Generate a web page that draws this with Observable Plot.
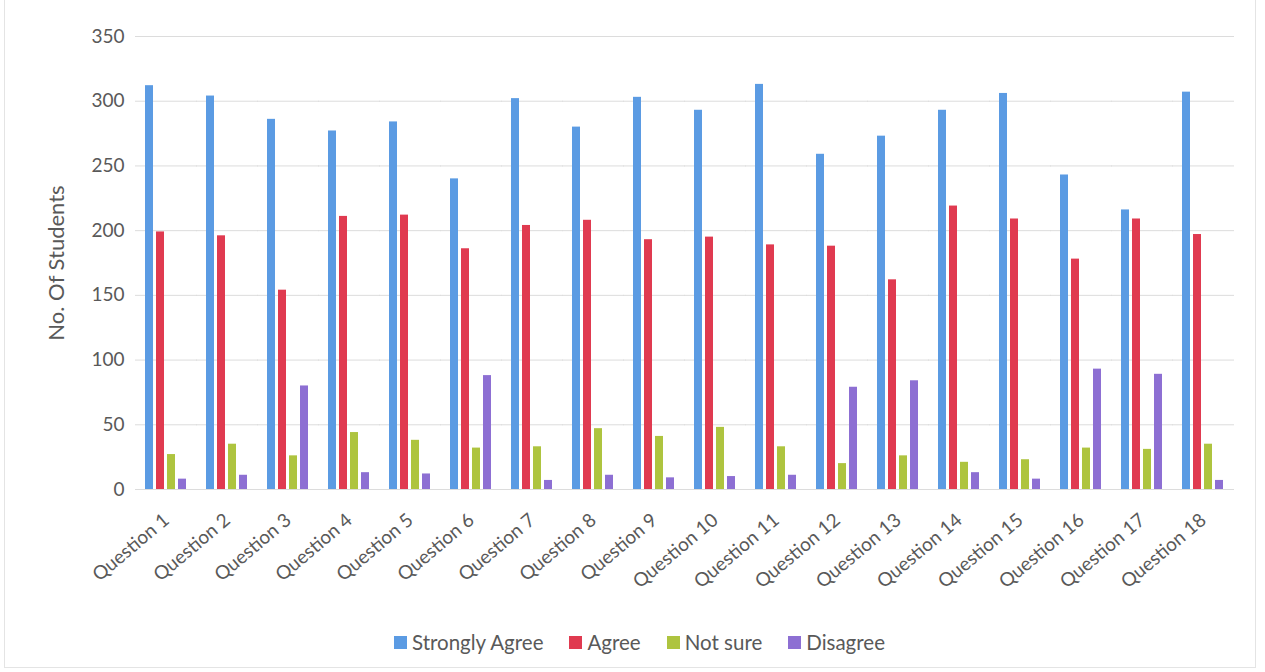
<!DOCTYPE html>
<html><head><meta charset="utf-8">
<script src="https://cdn.jsdelivr.net/npm/d3@7"></script>
<script src="https://cdn.jsdelivr.net/npm/@observablehq/plot@0.6"></script>
<style>
body{margin:0;background:#fff;font-family:Lato, "Open Sans", sans-serif;}
#wrap{position:relative;width:1265px;height:672px;overflow:hidden;}
#frame{position:absolute;left:4px;top:-2px;width:1252px;height:670px;border:1px solid #e4e4e4;box-sizing:border-box;pointer-events:none;}
#chart{position:absolute;left:0;top:0;}
#legend{position:absolute;top:629px;left:0;width:1265px;display:flex;justify-content:center;gap:26px;font-size:20.5px;line-height:26px;color:#595959;padding-left:14px;box-sizing:border-box;}
#legend span.item{display:flex;align-items:center;}
#legend span.sw{display:inline-block;width:13px;height:13px;margin-right:5px;}
</style></head>
<body>
<div id="wrap"><div id="frame"></div><div id="chart"></div><div id="legend"></div></div>
<script>
const questions = ["Question 1","Question 2","Question 3","Question 4","Question 5","Question 6","Question 7","Question 8","Question 9","Question 10","Question 11","Question 12","Question 13","Question 14","Question 15","Question 16","Question 17","Question 18"];
const series = ["Strongly Agree","Agree","Not sure","Disagree"];
const stronglyAgree = [312,304,286,277,284,240,302,280,303,293,313,259,273,293,306,243,216,307];
const agree =         [199,196,154,211,212,186,204,208,193,195,189,188,162,219,209,178,209,197];
const notSure =       [27,35,26,44,38,32,33,47,41,48,33,20,26,21,23,32,31,35];
const disagree =      [8,11,80,13,12,88,7,11,9,10,11,79,84,13,8,93,89,7];
const yTicks = [0,50,100,150,200,250,300,350];
const colors = ["#5b9be3","#e03a50","#aec43f","#8d6fd3"];

const seriesValues = [stronglyAgree, agree, notSure, disagree];
const data = questions.flatMap((q,i)=>series.map((s,j)=>({question:q, series:s, value:seriesValues[j][i]})));

const chart = Plot.plot({
  width:1265, height:600,
  marginTop:36, marginBottom:111, marginLeft:132, marginRight:29,
  style:{fontFamily:"Lato, 'Open Sans', sans-serif", fontSize:"19px", color:"#595959", background:"transparent", overflow:"visible"},
  fx:{domain:questions, paddingInner:0.28, paddingOuter:0.14, label:null, axis:null},
  x:{domain:series, paddingInner:0.25, paddingOuter:0, axis:null},
  y:{domain:[0,350], axis:null},
  color:{domain:series, range:colors},
  marks:[
    Plot.ruleY(yTicks, {y:d=>d, stroke:"#dcdcdc", strokeWidth:1, insetLeft:-9, insetRight:-9}),
    Plot.barY(data, {fx:"question", x:"series", y:"value", fill:"series"}),
    Plot.axisFx({anchor:"bottom", tickRotate:-40, tickSize:0, tickPadding:28, label:null, fontSize:19, fill:"#595959"}),
    Plot.axisY({ticks:yTicks, tickSize:0, tickPadding:20, fontSize:19, fill:"#595959", label:"No. Of Students", labelAnchor:"center", labelArrow:"none", labelOffset:96})
  ]
});
document.getElementById("chart").appendChild(chart);
chart.querySelectorAll("g[aria-label='y-axis label'] text").forEach(t=>t.setAttribute("font-size","22"));

const legend = document.getElementById("legend");
series.forEach((s,i)=>{
  const item = document.createElement("span"); item.className="item";
  const sw = document.createElement("span"); sw.className="sw"; sw.style.background = colors[i];
  item.appendChild(sw); item.appendChild(document.createTextNode(s));
  legend.appendChild(item);
});
</script>
</body></html>
